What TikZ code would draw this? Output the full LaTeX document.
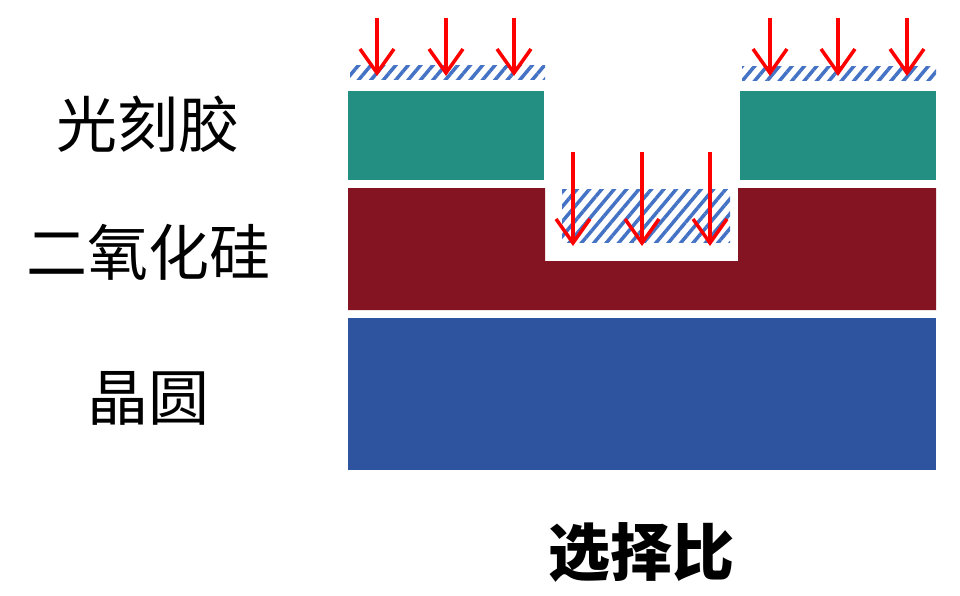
\documentclass[tikz,border=0pt]{standalone}
\usepackage{fontspec}
\newfontfamily\cjk{Noto Sans CJK SC}
\usetikzlibrary{arrows.meta,patterns.meta}
\definecolor{resist}{RGB}{35,143,130}
\definecolor{oxide}{RGB}{132,20,34}
\definecolor{wafer}{RGB}{46,84,160}
\definecolor{hatch}{RGB}{68,114,196}
\tikzset{
  beam/.style={red, line width=3.5pt, -{Straight Barb[length=24pt,width=34pt,line width=3.5pt]}},
  etched/.style={pattern={Lines[angle=50,distance=9.5pt,line width=3.5pt]}, pattern color=hatch},
  layername/.style={font=\cjk\fontsize{61}{66}\selectfont, anchor=center}
}
\begin{document}
\begin{tikzpicture}[x=1pt,y=-1pt]
        \useasboundingbox (0,0) rectangle (960,596);
        % layers
        \fill[wafer] (348,318) rectangle (936,470);
        \fill[oxide] (348,188) -- (545,188) -- (545,261) -- (738,261) -- (738,188) -- (936,188) -- (936,310) -- (348,310) -- cycle;
        \fill[resist] (348,91) rectangle (544,180);
        \fill[resist] (740,91) rectangle (936,180);
        % etched regions
        \fill[etched] (350,66) rectangle (545,80);
        \fill[etched] (742,67) rectangle (936,81);
        \fill[etched] (562,189) rectangle (730,242);
        % ions
        \foreach \x in {377,446,514,770,838,907}
            \draw[beam] (\x,18) -- (\x,76);
        \foreach \x in {573,642,710}
            \draw[beam] (\x,152) -- (\x,246);
        % labels
        \node[layername] (pr) at (148,124) {光刻胶};
        \node[layername] (ox) at (148,252) {二氧化硅};
        \node[layername] (wf) at (148,398) {晶圆};
        \node[font=\cjk\bfseries\fontsize{62}{66}\selectfont] (sel) at (641,552) {选择比};
\end{tikzpicture}
\end{document}
